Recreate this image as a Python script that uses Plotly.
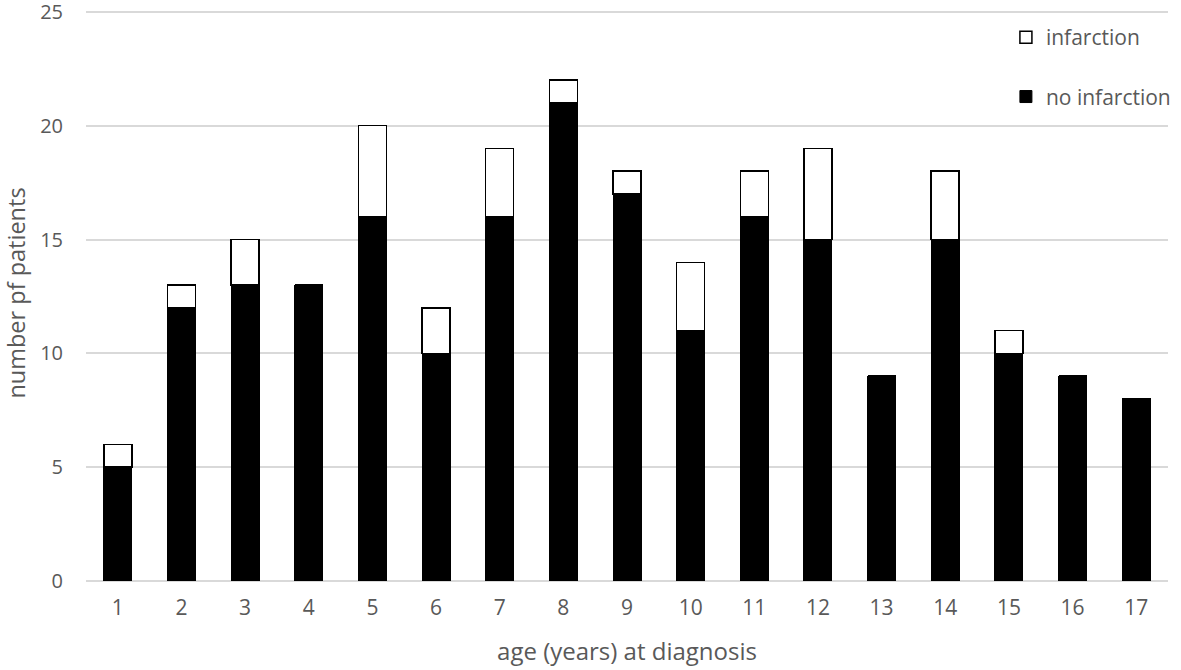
import plotly.graph_objects as go

ages = [str(a) for a in range(1, 18)]
no_infarction = [5, 12, 13, 13, 16, 10, 16, 21, 17, 11, 16, 15, 9, 15, 10, 9, 8]
infarction = [1, 1, 2, 0, 4, 2, 3, 1, 1, 3, 2, 4, 0, 3, 1, 0, 0]

font_family = "Open Sans, Noto Sans, sans-serif"
grey = "#595959"

fig = go.Figure()
fig.add_trace(go.Bar(
    x=ages, y=no_infarction, name="no infarction",
    legendrank=2, legendgroup="no",
    marker=dict(color="black", line=dict(color="black", width=1)),
))
fig.add_trace(go.Bar(
    x=ages, y=infarction, name="infarction",
    legendrank=1, legendgroup="inf",
    marker=dict(color="white", line=dict(color="black", width=1.5)),
))

fig.update_layout(
    barmode="stack",
    bargap=0.56,
    width=1181, height=670,
    margin=dict(l=86, r=6, t=5, b=89),
    plot_bgcolor="white", paper_bgcolor="white",
    font=dict(family=font_family, size=21, color=grey),
    legend=dict(
        x=0.8502, y=0.979, xanchor="left", yanchor="top",
        traceorder="grouped", tracegroupgap=29, itemwidth=30,
        font=dict(size=21, color=grey),
        bgcolor="rgba(0,0,0,0)",
    ),
    xaxis=dict(
        title=dict(text="age (years) at diagnosis", standoff=23,
                   font=dict(size=24, color=grey)),
        showgrid=False, showline=False, ticks="", automargin=False,
        ticklabelstandoff=12,
        tickfont=dict(size=21, color=grey),
    ),
    yaxis=dict(
        title=dict(text="number pf patients", standoff=14,
                   font=dict(size=23.5, color=grey)),
        range=[0, 25.3], tickvals=[0, 5, 10, 15, 20, 25], automargin=False,
        ticklabeloverflow="allow",
        showgrid=True, gridcolor="#d9d9d9", gridwidth=1.5,
        zeroline=True, zerolinecolor="#d9d9d9", zerolinewidth=1.5,
        showline=False, ticks="", ticklabelstandoff=22,
        tickfont=dict(size=20, color=grey),
    ),
)

# the page has an 8px body margin by default; drop it so the figure sits at 0,0
fig.write_html("out.html", config={"displayModeBar": False},
               post_script="document.body.style.margin='0';")
